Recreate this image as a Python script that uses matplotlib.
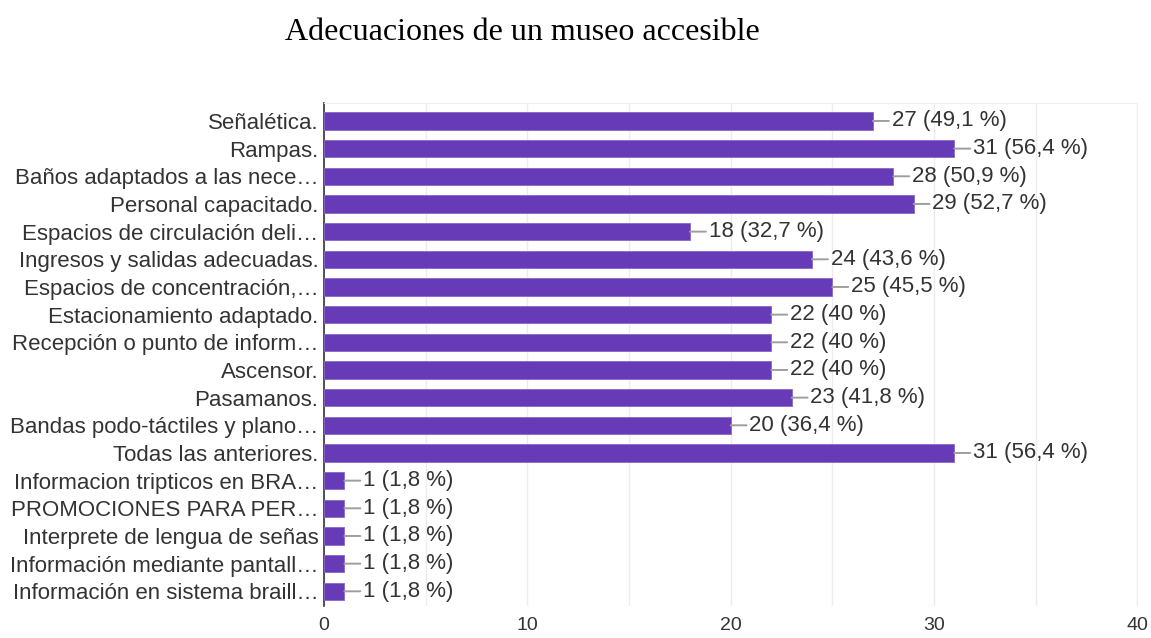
import matplotlib
matplotlib.use("Agg")
import matplotlib.pyplot as plt

# Data
categories = [
    "Señalética.",
    "Rampas.",
    "Baños adaptados a las nece…",
    "Personal capacitado.",
    "Espacios de circulación deli…",
    "Ingresos y salidas adecuadas.",
    "Espacios de concentración,…",
    "Estacionamiento adaptado.",
    "Recepción o punto de inform…",
    "Ascensor.",
    "Pasamanos.",
    "Bandas podo-táctiles y plano…",
    "Todas las anteriores.",
    "Informacion tripticos en BRA…",
    "PROMOCIONES PARA PER…",
    "Interprete de lengua de señas",
    "Información mediante pantall…",
    "Información en sistema braill…",
]
counts = [27, 31, 28, 29, 18, 24, 25, 22, 22, 22, 23, 20, 31, 1, 1, 1, 1, 1]
percents = ["49,1", "56,4", "50,9", "52,7", "32,7", "43,6", "45,5", "40", "40",
            "40", "41,8", "36,4", "56,4", "1,8", "1,8", "1,8", "1,8", "1,8"]
x_ticks = [0, 10, 20, 30, 40]

plt.rcParams['font.family'] = ['Liberation Sans', 'DejaVu Sans']

fig = plt.figure(figsize=(11.51, 6.38), dpi=100)
ax = fig.add_axes([0.2815, 0.0502, 0.988 - 0.2815, 0.8386 - 0.0502])

y = list(range(len(categories)))
ax.barh(y, counts, height=0.62, color='#673ab7', edgecolor='#8a67c9', linewidth=0.6, zorder=3)

# value labels joined to the bar end by a short grey line
for yi, c, p in zip(y, counts, percents):
    ax.annotate(f"{c} ({p} %)", xy=(c, yi), xytext=(13.5, 0), textcoords='offset points',
                ha='left', va='center', fontsize=16, color='#333333',
                arrowprops=dict(arrowstyle='-', color='#9e9e9e', lw=1.4, shrinkA=0, shrinkB=0))

ax.set_xlim(0, 40)
ax.set_ylim(len(categories) - 0.47, -0.65)
ax.set_yticks(y)
ax.set_yticklabels(categories, fontsize=16, color='#333333')
ax.set_xticks(range(0, 41, 5))
ax.set_xticklabels([str(t) if t in x_ticks else "" for t in range(0, 41, 5)],
                   fontsize=14, color='#333333')
ax.tick_params(axis='both', length=0)
ax.tick_params(axis='x', pad=8)
ax.tick_params(axis='y', pad=4)
ax.grid(axis='x', color='#ececec', linewidth=1, zorder=0)

for side in ['top', 'right']:
    ax.spines[side].set_color('#eeeeee')
ax.spines['bottom'].set_visible(False)
ax.spines['left'].set_color('#333333')
ax.spines['left'].set_linewidth(1.2)

fig.text(0.4535, 0.949, "Adecuaciones de un museo accesible", ha='center', va='center',
         fontsize=23, family=['Liberation Serif', 'DejaVu Serif'], color='black')

fig.savefig("out.png", dpi=100)
